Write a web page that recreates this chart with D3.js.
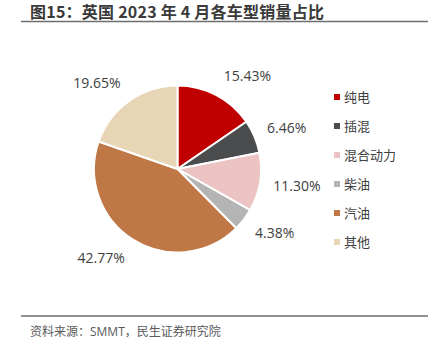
<!DOCTYPE html>
<html><head><meta charset="utf-8">
<script src="https://cdn.jsdelivr.net/npm/d3@7"></script>
<style>
html,body{margin:0;padding:0;background:#fff;}
svg{display:block;}
</style>
</head><body>
<svg id="c" width="433" height="355"></svg>
<script>
const categories = ["纯电", "插混", "混合动力", "柴油", "汽油", "其他"];
const values = [15.43, 6.46, 11.30, 4.38, 42.77, 19.65];
const colors = ["#C00000", "#4B4C4E", "#EBC3C3", "#B4B4B4", "#BF7845", "#E7D5B5"];
const title = "图15：英国 2023 年 4 月各车型销量占比";
const source = "资料来源：SMMT，民生证券研究院";

const svg = d3.select("#c");
const font = "'Open Sans','Noto Sans CJK SC',sans-serif";

// Title
svg.append("text").attr("x", 30).attr("y", 18)
  .attr("font-family", "'Noto Sans CJK SC','Noto Sans',sans-serif").attr("font-weight", 700)
  .attr("font-size", 16).attr("fill", "#3a3a3a").attr("textLength", 294)
  .attr("lengthAdjust", "spacing").text(title);
svg.append("line").attr("x1", 21).attr("x2", 428).attr("y1", 21.5).attr("y2", 21.5)
  .attr("stroke", "#6e6e6e").attr("stroke-width", 1.5);

// Footer
svg.append("line").attr("x1", 21).attr("x2", 428).attr("y1", 316).attr("y2", 316)
  .attr("stroke", "#6e6e6e").attr("stroke-width", 1.5);
svg.append("text").attr("x", 30).attr("y", 336)
  .attr("font-family", font)
  .attr("font-size", 12).attr("fill", "#595959").text(source);

// Pie
const cx = 177.5, cy = 169, r = 83.5;
const data = categories.map((c, i) => ({name: c, value: values[i], color: colors[i]}));
const pie = d3.pie().value(d => d.value).sort(null);
const arcs = pie(data);
const arc = d3.arc().innerRadius(0).outerRadius(r);
const g = svg.append("g").attr("transform", `translate(${cx},${cy})`);
g.selectAll("path").data(arcs).join("path")
  .attr("d", arc).attr("fill", d => d.data.color)
  .attr("stroke", "#fff").attr("stroke-width", 2).attr("stroke-linejoin", "round");

// Labels
const R = 95;
g.selectAll("text.lbl").data(arcs).join("text").attr("class", "lbl")
  .each(function(d) {
    const a = (d.startAngle + d.endAngle) / 2;
    const s = Math.sin(a), c = Math.cos(a);
    const px = R * s, py = -R * c;
    d3.select(this)
      .attr("x", px + (s >= 0 ? 2 : -2))
      .attr("y", py - c * 10)
      .attr("text-anchor", s >= 0 ? "start" : "end")
      .attr("dy", "0.35em");
  })
  .attr("font-family", font).attr("font-size", 14).attr("fill", "#404040")
  .text(d => d.data.value.toFixed(2) + "%");

// Legend
const leg = svg.append("g");
const ly = d3.scalePoint().domain(categories).range([97, 242]);
categories.forEach((c, i) => {
  leg.append("rect").attr("x", 334).attr("y", ly(c) - 3).attr("width", 6).attr("height", 6)
    .attr("fill", colors[i]);
  leg.append("text").attr("x", 344).attr("y", ly(c)).attr("dy", "0.35em")
    .attr("font-family", "'Noto Sans CJK SC',sans-serif")
    .attr("font-size", 13).attr("fill", "#404040").text(c);
});
</script>
</body></html>
